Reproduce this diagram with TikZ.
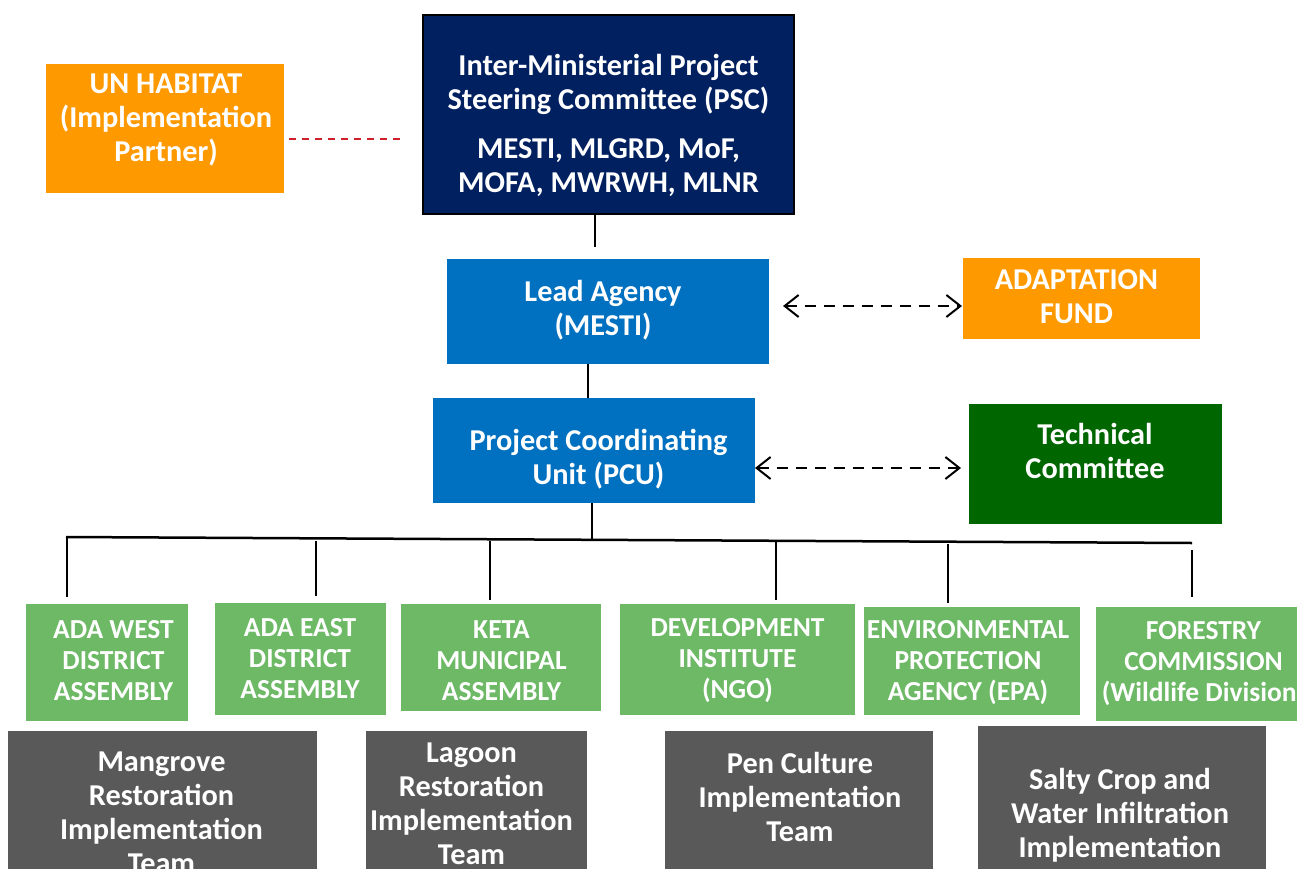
\documentclass[tikz,border=0pt]{standalone}
\usepackage{fontspec}
\setmainfont{Carlito}
\usetikzlibrary{arrows.meta,fit}

\definecolor{unorange}{HTML}{FF9900}
\definecolor{pscnavy}{HTML}{002060}
\definecolor{leadblue}{HTML}{0070C0}
\definecolor{tcgreen}{HTML}{006600}
\definecolor{litegreen}{HTML}{6DB966}
\definecolor{teamgray}{HTML}{595959}
\definecolor{linkred}{HTML}{D0202A}

\tikzset{
  blk/.style={inner sep=0pt, outer sep=0pt, fill=#1},
  lbl/.style={text=white, align=center, inner sep=0pt,
    font=\bfseries\fontsize{30.3}{34}\selectfont},
  glbl/.style={lbl, font=\bfseries\fontsize{27.5}{31}\selectfont},
  stem/.style={draw=black, line width=2pt},
  bus/.style={draw=black, line width=2.5pt},
  darr/.style={draw=black, line width=2pt, dash pattern=on 11pt off 8pt,
    {Straight Barb[length=14pt,width=22pt]}-{Straight Barb[length=14pt,width=22pt]}},
  reddash/.style={draw=linkred, line width=1.5pt, dash pattern=on 7pt off 6pt}
}

\begin{document}
\begin{tikzpicture}[x=1pt,y=-1pt]
\useasboundingbox (0,0) rectangle (1297,869);
\clip (0,0) rectangle (1297,869);
\fill[white] (0,0) rectangle (1297,869);

% upper level boxes
\node[blk=unorange, fit={(46,64) (284,193)}] (unh) {};
\node[blk=pscnavy, draw=black, line width=2pt, fit={(423,15) (794,214)}] (psc) {};
\node[blk=leadblue, fit={(447,259) (769,364)}] (lead) {};
\node[blk=leadblue, fit={(433,398) (755,503)}] (pcu) {};
\node[blk=unorange, fit={(963,258) (1200,339)}] (af) {};
\node[blk=tcgreen, fit={(969,404) (1222,524)}] (tc) {};

\node[lbl] (unhT) at (166,120) {UN HABITAT\\(Implementation\\Partner)};
\node[lbl] (pscT) at (608.5,125.5) {Inter-Ministerial Project\\Steering Committee (PSC)\\[15pt]MESTI, MLGRD, MoF,\\MOFA, MWRWH, MLNR};
\node[lbl] (leadT) at (603,310) {Lead Agency\\(MESTI)};
\node[lbl] (pcuT) at (598.5,459.5) {Project Coordinating\\Unit (PCU)};
\node[lbl] (afT) at (1076.5,296.5) {ADAPTATION\\FUND};
\node[lbl] (tcT) at (1095,450.5) {Technical\\Committee};

% implementing partners
\node[blk=litegreen, fit={(26,604) (188,721)}] (adaw) {};
\node[blk=litegreen, fit={(215,603) (386,715)}] (adae) {};
\node[blk=litegreen, fit={(401,604) (601,711)}] (keta) {};
\node[blk=litegreen, fit={(620,604) (855,715)}] (dev) {};
\node[blk=litegreen, fit={(864,607) (1080,715)}] (env) {};
\node[blk=litegreen, fit={(1096,607) (1300,721)}] (fc) {};

\node[glbl] (adawT) at (113.5,661) {ADA WEST\\DISTRICT\\ASSEMBLY};
\node[glbl] (adaeT) at (300,659) {ADA EAST\\DISTRICT\\ASSEMBLY};
\node[glbl] (ketaT) at (501.5,661) {KETA\\MUNICIPAL\\ASSEMBLY};
\node[glbl] (devT) at (737.5,661) {DEVELOPMENT\\INSTITUTE\\(NGO)};
\node[glbl] (envT) at (968,663) {ENVIRONMENTAL\\PROTECTION\\AGENCY (EPA)};
\node[glbl] (fcT) at (1203.5,664) {FORESTRY\\COMMISSION\\(Wildlife Division)};

% implementation teams
\node[blk=teamgray, fit={(8,731) (317,872)}] (mang) {};
\node[blk=teamgray, fit={(366,731) (587,872)}] (lag) {};
\node[blk=teamgray, fit={(665,731) (933,872)}] (pen) {};
\node[blk=teamgray, fit={(978,726) (1266,872)}] (salty) {};

\node[lbl] (mangT) at (161.5,813) {Mangrove\\Restoration\\Implementation\\Team};
\node[lbl] (lagT) at (471.5,803.5) {Lagoon\\Restoration\\Implementation\\Team};
\node[lbl] (penT) at (800,797) {Pen Culture\\Implementation\\Team};
\node[lbl] (saltyT) at (1120,815) {Salty Crop and\\Water Infiltration\\Implementation};

% connectors of the chain of command
\coordinate (r1) at ([yshift=-10.5pt]unh.east);
\draw[reddash, shorten <=5pt, shorten >=19pt] (r1) -- (r1 -| psc.west);
\draw[stem, shorten >=12pt] ([xshift=-13.5pt]psc.south) -- ([xshift=-13pt]lead.north);
\draw[stem] ([xshift=-20pt]lead.south) -- ([xshift=-6pt]pcu.north);

\coordinate (a1) at ([yshift=5.5pt]lead.east);
\draw[darr, shorten <=14pt, shorten >=1pt] (a1) -- (a1 -| af.west);
\coordinate (a2) at ([yshift=-17.5pt]pcu.east);
\draw[darr, shorten >=8pt] (a2) -- (a2 -| tc.west);

% distribution bus to the partners
\coordinate (hub) at (592,540);
\draw[stem] (pcu.south -| hub) -- (hub);
\coordinate (busL) at (66,537);
\coordinate (busR) at (1192,543);
\draw[bus] (busL) -- (busR);
\coordinate (d1) at (67,537);
\coordinate (d2) at (316,541);
\coordinate (d3) at (490,541);
\coordinate (d4) at (776,541);
\coordinate (d5) at (948,544);
\coordinate (d6) at (1192,550);
\draw[stem, shorten >=7pt] (d1) -- (d1 |- adaw.north);
\draw[stem, shorten >=7pt] (d2) -- (d2 |- adae.north);
\draw[stem, shorten >=4pt] (d3) -- (d3 |- keta.north);
\draw[stem, shorten >=4pt] (d4) -- (d4 |- dev.north);
\draw[stem, shorten >=4pt] (d5) -- (d5 |- env.north);
\draw[stem, shorten >=10pt] (d6) -- (d6 |- fc.north);
\end{tikzpicture}
\end{document}
